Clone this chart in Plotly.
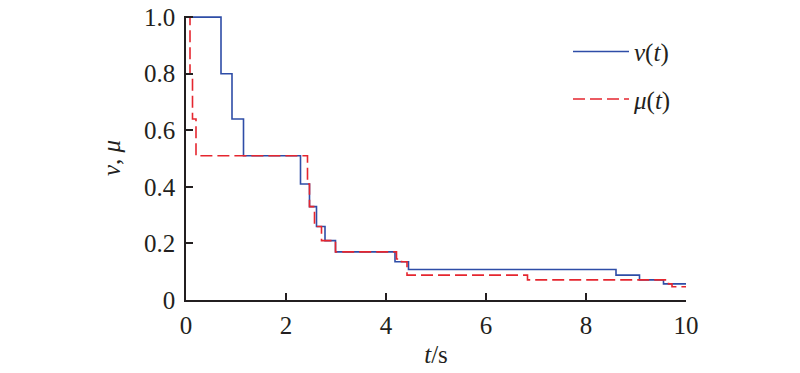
import plotly.graph_objects as go

# Data
t_v = [0, 0.70, 0.92, 1.15, 2.29, 2.47, 2.61, 2.78, 2.99, 4.18, 4.45, 8.60, 9.07, 9.55, 10.0]
v_vals = [1.0, 0.80, 0.64, 0.51, 0.41, 0.33, 0.26, 0.21, 0.17, 0.135, 0.108, 0.088, 0.071, 0.057, 0.057]

t_mu = [0, 0.08, 0.13, 0.20, 2.43, 2.47, 2.57, 2.71, 2.99, 4.21, 4.31, 4.42, 6.83, 9.65, 9.72, 10.0]
mu_vals = [1.0, 0.80, 0.64, 0.51, 0.41, 0.33, 0.26, 0.21, 0.17, 0.145, 0.135, 0.088, 0.071, 0.057, 0.047, 0.047]

x_ticks = [0, 2, 4, 6, 8, 10]
y_ticks = [0, 0.2, 0.4, 0.6, 0.8, 1.0]
y_ticklabels = ["0", "0.2", "0.4", "0.6", "0.8", "1.0"]

FONT = "Liberation Serif, Times New Roman, serif"
AX = "#231F20"

fig = go.Figure()
fig.add_trace(go.Scatter(
    x=t_v, y=v_vals, mode="lines", line=dict(shape="hv", color="#2E4DA7", width=1.6),
    name="<i>v</i>(<i>t</i>)", legendgroup="a"))
fig.add_trace(go.Scatter(
    x=t_mu, y=mu_vals, mode="lines", line=dict(shape="hv", color="#E5262F", width=1.6, dash="12px,5px"),
    name="<i>μ</i>(<i>t</i>)", legendgroup="b"))

fig.update_layout(
    width=800, height=373,
    margin=dict(l=186, r=114, t=16, b=73, autoexpand=False),
    paper_bgcolor="white", plot_bgcolor="white",
    font=dict(family=FONT, size=25, color="#231F20"),
    showlegend=True,
    legend=dict(x=0.764, y=0.955, xanchor="left", yanchor="top",
                traceorder="grouped", tracegroupgap=12, itemwidth=56,
                bgcolor="rgba(0,0,0,0)", font=dict(family=FONT, size=25)),
    xaxis=dict(range=[0, 10], tickvals=x_ticks, ticktext=[str(x) for x in x_ticks],
               automargin=False, ticklabelstandoff=2,
               showgrid=False, zeroline=False, showline=True, linecolor=AX, linewidth=1.5,
               ticks="inside", ticklen=7, tickwidth=1.5, tickcolor=AX,
               title=dict(text="<i>t</i>/s", standoff=8, font=dict(size=25))),
    yaxis=dict(range=[0, 1.004], tickvals=y_ticks, ticktext=y_ticklabels,
               automargin=False, ticklabelstandoff=4,
               showgrid=False, zeroline=False, showline=True, linecolor=AX, linewidth=1.5,
               ticks="inside", ticklen=7, tickwidth=1.5, tickcolor=AX,
               title=dict(text="<i>v</i>, <i>μ</i>", standoff=16, font=dict(size=25))),
)

fig.write_html("out.html", config={"displayModeBar": False},
               post_script="document.body.style.margin='0';")
